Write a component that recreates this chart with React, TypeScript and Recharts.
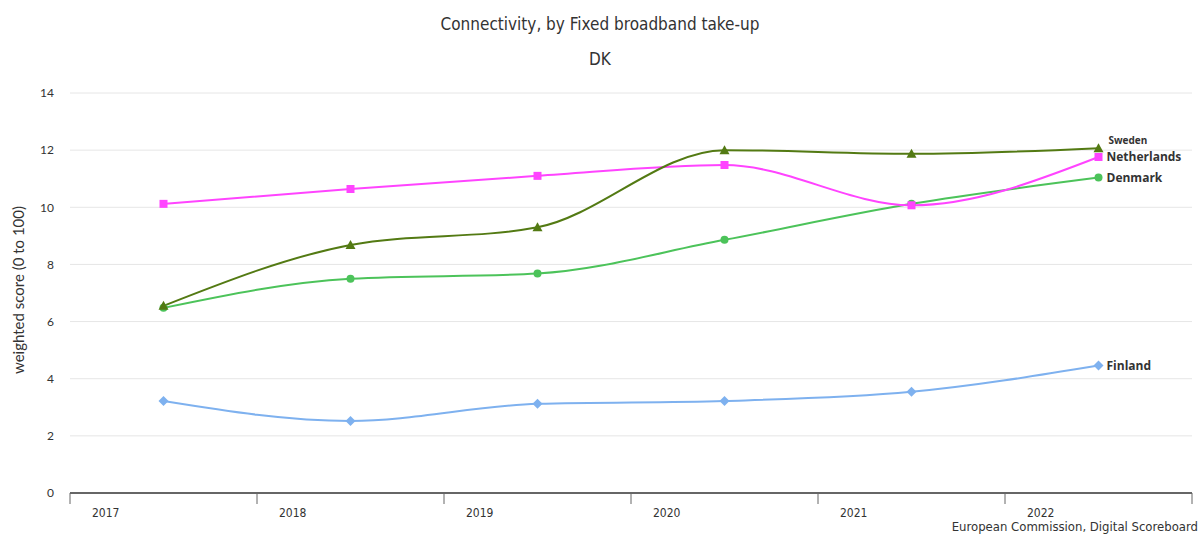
import React from 'react';
import { LineChart, Line, XAxis, YAxis, CartesianGrid } from 'recharts';

const years = ['2017', '2018', '2019', '2020', '2021', '2022'];
const sweden = [6.55, 8.68, 9.3, 12.0, 11.87, 12.07];
const netherlands = [10.12, 10.64, 11.1, 11.48, 10.07, 11.76];
const denmark = [6.48, 7.5, 7.68, 8.86, 10.12, 11.04];
const finland = [3.22, 2.52, 3.12, 3.22, 3.54, 4.46];
const yTicks = [0, 2, 4, 6, 8, 10, 12, 14];

const data = years.map((y, i) => ({
  x: i + 0.5,
  year: y,
  sweden: sweden[i],
  netherlands: netherlands[i],
  denmark: denmark[i],
  finland: finland[i],
}));

const font = "'DejaVu Sans Condensed', 'Liberation Sans Narrow', sans-serif";
const last = years.length - 1;

// marker shapes like the original chart
const makeDot = (shape: string, color: string) => (props: any) => {
  const { cx, cy, index } = props;
  if (cx == null || cy == null) return <g key={index} />;
  if (shape === 'triangle')
    return <path key={index} d={`M${cx},${cy - 5}L${cx + 5},${cy + 4}L${cx - 5},${cy + 4}Z`} fill={color} />;
  if (shape === 'square')
    return <rect key={index} x={cx - 4} y={cy - 4} width={8} height={8} fill={color} />;
  if (shape === 'diamond')
    return <path key={index} d={`M${cx},${cy - 5}L${cx + 5},${cy}L${cx},${cy + 5}L${cx - 5},${cy}Z`} fill={color} />;
  return <circle key={index} cx={cx} cy={cy} r={4} fill={color} />;
};

const makeLabel = (name: string, small = false) => (props: any) => {
  const { x, y, index } = props;
  if (index !== last) return null;
  return (
    <text
      x={x + (small ? 10 : 8)}
      y={small ? y - 4 : y + 4}
      fontSize={small ? 10 : 12}
      fontWeight="bold"
      fill="#333"
      fontFamily="'Open Sans', sans-serif"
    >
      {name}
    </text>
  );
};

const XTick = (props: any) => {
  const { x, y, payload } = props;
  const label = years[payload.value];
  return (
    <g>
      <line x1={x} y1={y - 8} x2={x} y2={y + 3} stroke="#666" strokeWidth={1} />
      {label && (
        <text x={x + 22} y={y + 16} fontSize={12} fill="#333" fontFamily={font}>
          {label}
        </text>
      )}
    </g>
  );
};

export default function App() {
  return (
    <div style={{ position: 'absolute', left: 0, top: 0, width: 1200, height: 536, background: '#fff', overflow: 'hidden' }}>
      <div style={{ position: 'absolute', left: 0, width: 1200, top: 14, textAlign: 'center', fontFamily: font, fontSize: 17, color: '#333' }}>
        Connectivity, by Fixed broadband take-up
      </div>
      <div style={{ position: 'absolute', left: 0, width: 1200, top: 49, textAlign: 'center', fontFamily: font, fontSize: 17, color: '#333' }}>
        DK
      </div>
      <div
        style={{
          position: 'absolute',
          left: 18,
          top: 290,
          transform: 'translate(-50%, -50%) rotate(-90deg)',
          whiteSpace: 'nowrap',
          fontFamily: "'Lato', sans-serif",
          fontSize: 15,
          color: '#333',
        }}
      >
        weighted score (0 to 100)
      </div>
      <div style={{ position: 'absolute', right: 2, top: 519, fontFamily: font, fontSize: 13, color: '#333' }}>
        European Commission, Digital Scoreboard
      </div>
      <LineChart width={1200} height={536} data={data} margin={{ top: 93, right: 8, bottom: 0, left: 10 }}>
        <CartesianGrid horizontal vertical={false} stroke="#e6e6e6" />
        <XAxis
          dataKey="x"
          type="number"
          domain={[0, 6]}
          ticks={[0, 1, 2, 3, 4, 5, 6]}
          interval={0}
          axisLine={{ stroke: '#666', strokeWidth: 2 }}
          tickLine={false}
          tick={<XTick />}
          height={43}
        />
        <YAxis
          domain={[0, 14]}
          ticks={yTicks}
          interval={0}
          width={60}
          axisLine={false}
          tickLine={false}
          tickMargin={10}
          tick={{ fontSize: 12, fill: '#333', fontFamily: "'Lato', sans-serif" }}
        />
        <Line type="monotone" dataKey="finland" stroke="#7eb1ef" strokeWidth={2} dot={makeDot('diamond', '#7eb1ef')} label={makeLabel('Finland')} isAnimationActive={false} />
        <Line type="monotone" dataKey="denmark" stroke="#4cc35a" strokeWidth={2} dot={makeDot('circle', '#4cc35a')} label={makeLabel('Denmark')} isAnimationActive={false} />
        <Line type="monotone" dataKey="netherlands" stroke="#ff44ff" strokeWidth={2} dot={makeDot('square', '#ff44ff')} label={makeLabel('Netherlands')} isAnimationActive={false} />
        <Line type="monotone" dataKey="sweden" stroke="#537a13" strokeWidth={2} dot={makeDot('triangle', '#537a13')} label={makeLabel('Sweden', true)} isAnimationActive={false} />
      </LineChart>
    </div>
  );
}
